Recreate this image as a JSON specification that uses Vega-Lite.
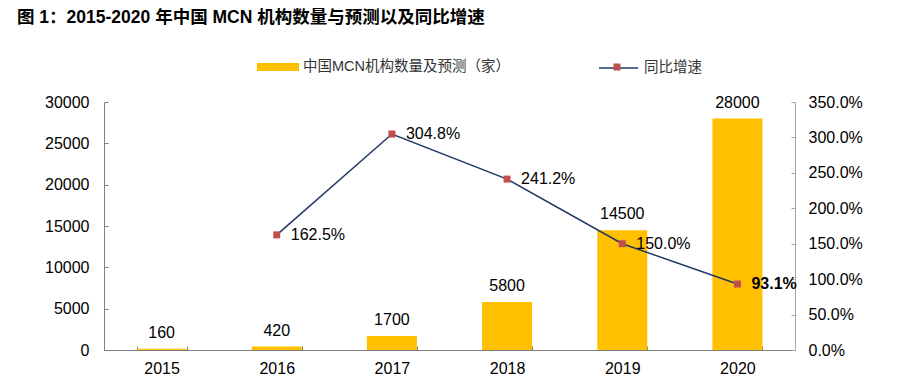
{
  "$schema": "https://vega.github.io/schema/vega-lite/v6.json",
  "width": 691,
  "height": 248,
  "autosize": {"type": "none"},
  "padding": {"left": 104, "top": 102, "right": 117, "bottom": 40},
  "background": "white",
  "title": {
    "text": "图 1：2015-2020 年中国 MCN 机构数量与预测以及同比增速",
    "anchor": "start",
    "frame": "group",
    "dx": -87,
    "offset": 20,
    "fontSize": 17.5,
    "fontWeight": "bold",
    "font": "Liberation Sans, Noto Sans CJK SC",
    "color": "#000000"
  },
  "config": {
    "view": {"stroke": null},
    "font": "Liberation Sans, Noto Sans CJK SC",
    "axis": {"labelFont": "Liberation Sans", "labelFontSize": 16, "labelColor": "#000000", "grid": false, "title": null, "labelOverlap": false}
  },
  "data": {
    "values": [
      {"year": "2015", "count": 160, "growth": null},
      {"year": "2016", "count": 420, "growth": 1.625},
      {"year": "2017", "count": 1700, "growth": 3.048},
      {"year": "2018", "count": 5800, "growth": 2.412},
      {"year": "2019", "count": 14500, "growth": 1.5},
      {"year": "2020", "count": 28000, "growth": 0.931}
    ]
  },
  "encoding": {
    "x": {
      "field": "year",
      "type": "ordinal",
      "scale": {"paddingInner": 0.566, "paddingOuter": 0.283},
      "axis": {
        "labelAngle": 0,
        "domainColor": "#7f7f7f",
        "tickColor": "#7f7f7f",
        "tickBand": "extent",
        "tickSize": -4,
        "labelPadding": 14
      }
    }
  },
  "layer": [
    {
      "encoding": {
        "y": {
          "field": "count",
          "type": "quantitative",
          "scale": {"domain": [0, 30000], "nice": false},
          "axis": {
            "orient": "left",
            "values": [0, 5000, 10000, 15000, 20000, 25000, 30000],
            "format": "d",
            "domainColor": "#7f7f7f",
            "tickColor": "#7f7f7f",
            "tickSize": -4,
            "labelPadding": 19
          }
        }
      },
      "layer": [
        {
          "mark": {"type": "bar", "color": "#FFC000"},
          "encoding": {
            "fill": {
              "datum": "中国MCN机构数量及预测（家）",
              "scale": {"range": ["#FFC000"]},
              "legend": {
                "orient": "none",
                "legendX": 153,
                "legendY": -56,
                "title": null,
                "padding": 0,
                "symbolType": "M-1,-0.19H1V0.19H-1Z",
                "symbolSize": 1764,
                "symbolStrokeWidth": 0,
                "labelOffset": 4,
                "labelFontSize": 14.5,
                "labelColor": "#333333",
                "labelFont": "Liberation Sans, Noto Sans CJK SC",
                "labelLimit": 400
              }
            }
          }
        },
        {
          "mark": {"type": "text", "baseline": "alphabetic", "dy": -11, "fontSize": 16, "color": "#000000", "font": "Liberation Sans"},
          "encoding": {
            "text": {"field": "count", "type": "quantitative", "format": "d"}
          }
        }
      ]
    },
    {
      "transform": [{"filter": "isValid(datum.growth)"}],
      "encoding": {
        "y": {
          "field": "growth",
          "type": "quantitative",
          "scale": {"domain": [0, 3.5], "nice": false},
          "axis": {
            "orient": "right",
            "values": [0, 0.5, 1, 1.5, 2, 2.5, 3, 3.5],
            "format": ".1%",
            "domainColor": "#a6a6a6",
            "tickColor": "#a6a6a6",
            "tickSize": -4,
            "labelPadding": 17
          }
        }
      },
      "layer": [
        {
          "mark": {"type": "line", "strokeWidth": 1.5},
          "encoding": {
            "stroke": {
              "datum": "同比增速",
              "scale": {"range": ["#1F3864"]},
              "legend": {
                "orient": "none",
                "legendX": 494,
                "legendY": -54.5,
                "title": null,
                "padding": 0,
                "symbolType": "stroke",
                "symbolSize": 1521,
                "symbolStrokeWidth": 1.5,
                "labelOffset": 5,
                "labelFontSize": 14.5,
                "labelColor": "#333333",
                "labelFont": "Liberation Sans, Noto Sans CJK SC"
              }
            }
          }
        },
        {
          "mark": {"type": "point", "filled": true, "color": "#C0504D", "opacity": 1, "size": 49},
          "encoding": {
            "shape": {
              "datum": "标记",
              "scale": {"range": ["square"]},
              "legend": {
                "orient": "none",
                "legendX": 509.5,
                "legendY": -38.5,
                "zindex": 2,
                "title": null,
                "padding": 0,
                "symbolSize": 49,
                "symbolFillColor": "#C0504D",
                "symbolStrokeWidth": 0,
                "labelExpr": "''",
                "labelFontSize": 1,
                "labelOffset": 0
              }
            }
          }
        },
        {
          "transform": [{"filter": "datum.year !== '2020'"}],
          "mark": {"type": "text", "align": "left", "baseline": "middle", "dx": 14, "fontSize": 16, "color": "#000000", "font": "Liberation Sans"},
          "encoding": {
            "text": {"field": "growth", "type": "quantitative", "format": ".1%"}
          }
        },
        {
          "transform": [{"filter": "datum.year === '2020'"}],
          "mark": {"type": "text", "align": "left", "baseline": "middle", "dx": 14, "fontSize": 16, "fontWeight": "bold", "color": "#000000", "font": "Liberation Sans"},
          "encoding": {
            "text": {"field": "growth", "type": "quantitative", "format": ".1%"}
          }
        }
      ]
    }
  ],
  "resolve": {"scale": {"y": "independent"}}
}
